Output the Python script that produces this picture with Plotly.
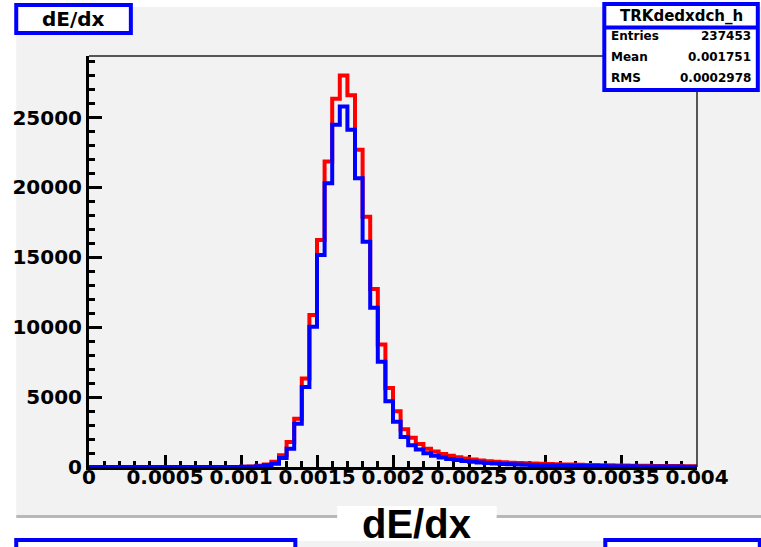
import numpy as np
import plotly.graph_objects as go

# ---------------- data ----------------
# histogram binning (80 bins over 0 .. 0.004)
bin_lo = 0.0
bin_hi = 0.004
n_bins = 80

# bin contents, red histogram
red_counts = [
    0, 0, 0, 0, 0, 0, 0, 0, 0, 0,
    0, 0, 0, 0, 0, 0, 0, 0, 0, 0,
    20, 40, 90, 180, 380, 840, 1790, 3460, 6330, 10870,
    16240, 21850, 26340, 28000, 26600, 22690, 17910, 12730, 8760, 5660,
    3990, 2700, 2100, 1650, 1300, 1100, 930, 810, 700, 600,
    530, 470, 420, 380, 340, 310, 290, 270, 250, 230,
    210, 195, 180, 170, 160, 150, 140, 130, 120, 110,
    100, 95, 90, 85, 80, 75, 70, 65, 60, 55,
]

# bin contents, blue histogram
blue_counts = [
    0, 0, 0, 0, 0, 0, 0, 0, 0, 0,
    0, 0, 0, 0, 0, 0, 0, 0, 0, 0,
    10, 25, 60, 120, 240, 650, 1310, 3100, 5730, 10030,
    15170, 20300, 24480, 25790, 24120, 20650, 16120, 11390, 7520, 4710,
    3230, 2150, 1560, 1250, 980, 810, 680, 580, 500, 430,
    370, 320, 280, 250, 220, 195, 175, 160, 145, 130,
    120, 110, 100, 92, 85, 78, 72, 66, 60, 55,
    50, 46, 42, 38, 35, 32, 30, 28, 26, 24,
]

x_tick_vals = [0, 0.0005, 0.001, 0.0015, 0.002, 0.0025, 0.003, 0.0035, 0.004]
x_tick_text = ["0", "0.0005", "0.001", "0.0015", "0.002", "0.0025", "0.003", "0.0035", "0.004"]
y_tick_vals = [0, 5000, 10000, 15000, 20000, 25000]
y_tick_text = ["0", "5000", "10000", "15000", "20000", "25000"]

hist_name = "TRKdedxdch_h"
stat_labels = ["Entries", "Mean", "RMS"]
stat_values = ["237453", "0.001751", "0.0002978"]
title_text = "dE/dx"
x_title = "dE/dx"

# ---------------- geometry ----------------
W, H = 761, 547
L, R, T, B = 87, 697, 56, 467          # plot frame in pixels
y_max = 1.05 * max(red_counts)


def px(x):
    return (x - L) / (R - L)


def py(y):
    return (B - y) / (B - T)


edges = np.linspace(bin_lo, bin_hi, n_bins + 1)


def step_xy(counts):
    return edges, list(counts) + [counts[-1]]


RED = "#ff0000"
BLUE = "#0000ff"
BOLD_WIDE = dict(family="DejaVu Sans", weight="bold", color="black")

fig = go.Figure()
for counts, col in ((red_counts, RED), (blue_counts, BLUE)):
    xs, ys = step_xy(counts)
    fig.add_trace(go.Scatter(x=xs, y=ys, mode="lines", line=dict(color=col, width=4, shape="hv"),
                             hoverinfo="skip", showlegend=False))

axis_common = dict(
    showgrid=False, zeroline=False, showline=True, linecolor="black", linewidth=3,
    ticks="inside", tickcolor="black", tickwidth=3, layer="below traces",
    tickfont=dict(size=20, **BOLD_WIDE), tickmode="array",
)

fig.update_xaxes(range=[bin_lo, bin_hi], tickvals=x_tick_vals, ticktext=x_tick_text, ticklen=12,
                 ticklabelstandoff=-10,
                 minor=dict(ticks="inside", ticklen=6, tickwidth=3, tickcolor="black",
                            tick0=0, dtick=0.0001),
                 **axis_common)
fig.update_yaxes(range=[0, y_max], tickvals=y_tick_vals, ticktext=y_tick_text, ticklen=13,
                 minor=dict(ticks="inside", ticklen=6, tickwidth=3, tickcolor="black",
                            tick0=0, dtick=1000),
                 **axis_common)

shapes = []


def rect(x0, y0, x1, y1, fill, line_color=None, line_width=0, layer="above"):
    shapes.append(dict(type="rect", xref="paper", yref="paper",
                       x0=px(x0), x1=px(x1), y0=py(y1), y1=py(y0),
                       fillcolor=fill, layer=layer,
                       line=dict(color=line_color or fill, width=line_width)))


# pad background and its bottom edge
rect(14, 7, 770, 515, "#f2f2f2", layer="below")
rect(14, 515, 770, 518, "#b8b8b8", layer="below")
# next pad strip along the bottom
rect(14, 541, 770, 560, "#f2f2f2", layer="below")
# thin frame at top and right
shapes.append(dict(type="line", xref="paper", yref="paper", x0=0, x1=1, y0=1, y1=1,
                   line=dict(color="#222222", width=1.5)))
shapes.append(dict(type="line", xref="paper", yref="paper", x0=1, x1=1, y0=0, y1=1,
                   line=dict(color="#222222", width=1.5)))
# title box
rect(14, 5, 129, 33, "white", BLUE, 4)
# stats box
rect(604, 4, 758, 90, "white", BLUE, 4)
shapes.append(dict(type="line", xref="paper", yref="paper", x0=px(604), x1=px(758),
                   y0=py(27.5), y1=py(27.5), line=dict(color=BLUE, width=4)))
# white label area of the axis title
rect(336, 506, 496, 541, "white")
# boxes of the pad below
rect(14, 540, 294, 570, "white", BLUE, 4)
rect(605, 540, 760, 570, "white", BLUE, 4)

annotations = [
    dict(text=title_text, x=px(71.5), y=py(19), xanchor="center", yanchor="middle",
         font=dict(size=20, **BOLD_WIDE)),
    dict(text=hist_name, x=px(681), y=py(16), xanchor="center", yanchor="middle",
         font=dict(size=15, **BOLD_WIDE)),
    dict(text=x_title, x=px(415.5), y=py(524), xanchor="center", yanchor="middle",
         height=42, valign="middle",
         font=dict(family="Liberation Sans", weight="bold", size=40, color="black")),
]
for i, (lab, val) in enumerate(zip(stat_labels, stat_values)):
    yy = 36 + 21 * i
    annotations.append(dict(text=lab, x=px(609), y=py(yy), xanchor="left", yanchor="middle",
                            font=dict(size=12, **BOLD_WIDE)))
    annotations.append(dict(text=val, x=px(753), y=py(yy), xanchor="right", yanchor="middle",
                            font=dict(size=12, **BOLD_WIDE)))
for a in annotations:
    a.update(xref="paper", yref="paper", showarrow=False)

fig.update_layout(
    width=W, height=H,
    margin=dict(l=L, r=W - R, t=T, b=H - B, pad=0),
    paper_bgcolor="white", plot_bgcolor="rgba(0,0,0,0)",
    shapes=shapes, annotations=annotations, showlegend=False,
)

fig.write_html("out.html")
